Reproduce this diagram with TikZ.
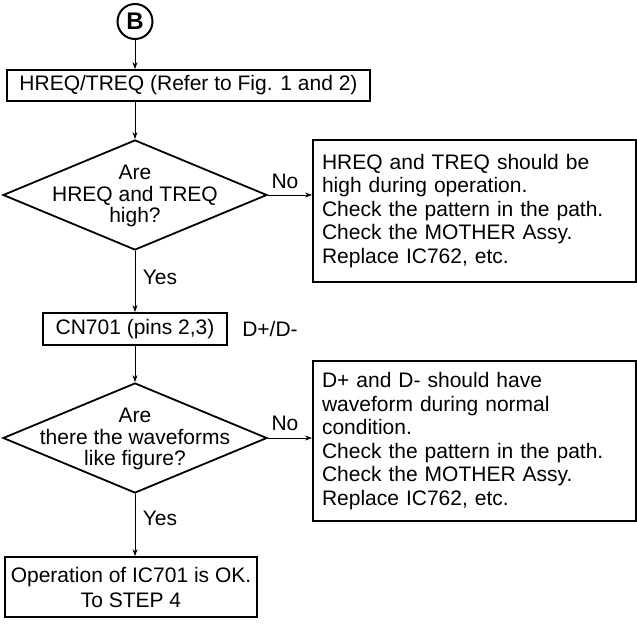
\documentclass[tikz,border=0pt]{standalone}
\usepackage{fontspec}
\setmainfont{Liberation Sans}
\usetikzlibrary{shapes.geometric,arrows.meta}
\begin{document}
\begin{tikzpicture}[x=1pt,y=-1pt,
  box/.style={draw,line width=1.8pt,inner sep=0pt,align=center,font=\fontsize{21}{24}\selectfont},
  nbox/.style={draw,line width=1.8pt,inner sep=9pt,text width=305pt,minimum width=323pt,align=left,font=\fontsize{21}{23.5}\selectfont},
  dia/.style={diamond,draw,line width=1.8pt,inner sep=0pt,minimum width=264pt,minimum height=110pt},
  dtext/.style={align=center,inner sep=0pt,font=\fontsize{21}{21.5}\selectfont},
  lbl/.style={inner sep=0pt,font=\fontsize{21}{24}\selectfont},
  arr/.style={line width=1pt,-{Stealth[length=7pt,width=5pt]}}]
\useasboundingbox (0,0) rectangle (637,624);
\node[circle,draw,line width=2pt,minimum size=35pt,inner sep=0pt,font=\fontsize{24}{24}\selectfont\bfseries] (B) at (135,21.5) {B};
\node[box,minimum width=363pt,minimum height=31pt] (b1) at (188.5,85.5) {HREQ/TREQ (Refer to Fig. 1 and 2)};
\node[dia] (d1) at (135,195) {};
\node[dtext] (t1) at (135,196) {Are\\HREQ and TREQ\\high?};
\node[nbox,minimum height=142pt] (n1) at (474.5,211) {HREQ and TREQ should be\\high during operation.\\Check the pattern in the path.\\Check the MOTHER Assy.\\Replace IC762, etc.};
\node[lbl] (no1) at (285,181) {No};
\node[lbl] (yes1) at (160,277) {Yes};
\node[box,minimum width=184pt,minimum height=32pt] (b2) at (135,329) {CN701 (pins 2,3)};
\node[lbl] (dd) at (270,329) {D+/D-};
\node[dia] (d2) at (135,438) {};
\node[dtext] (t2) at (135,439) {Are\\there the waveforms\\like figure?};
\node[nbox,minimum height=160pt] (n2) at (474.5,441) {D+ and D- should have\\waveform during normal\\condition.\\Check the pattern in the path.\\Check the MOTHER Assy.\\Replace IC762, etc.};
\node[lbl] (no2) at (285,423) {No};
\node[lbl] (yes2) at (160,518) {Yes};
\node[box,minimum width=252pt,minimum height=60pt,font=\fontsize{21}{25}\selectfont] (fin) at (131,587) {Operation of IC701 is OK.\\To STEP 4};
\draw[arr] (B) -- (b1.north -| B.south);
\draw[arr] (b1.south -| d1.north) -- (d1.north);
\draw[arr] (d1.east) -- (n1.west |- d1.east);
\draw[arr] (d1.south) -- (b2.north);
\draw[arr] (b2.south) -- (d2.north);
\draw[arr] (d2.east) -- (n2.west |- d2.east);
\draw[arr] (d2.south) -- (fin.north -| d2.south);
\end{tikzpicture}
\end{document}
